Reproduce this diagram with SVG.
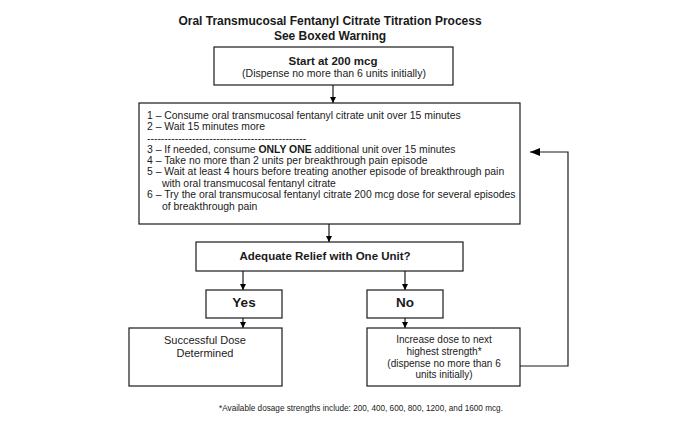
<svg xmlns="http://www.w3.org/2000/svg" width="674" height="423" viewBox="0 0 674 423">
<style>
  .box { fill: #ffffff; stroke: #1a1a1a; stroke-width: 1.2; }
  .t { font-family: "Liberation Sans", Arial, sans-serif; fill: #1a1a1a; }
  .b { font-weight: bold; }
  .c { text-anchor: middle; }
  .edge { fill: none; stroke: #1a1a1a; stroke-width: 1.2; }
</style>
<defs>
  <marker id="ah" markerUnits="userSpaceOnUse" markerWidth="8" markerHeight="8" refX="6" refY="3" orient="auto">
    <path d="M0,0 L6,3 L0,6 Z" fill="#000"/>
  </marker>
  <marker id="ahBig" markerUnits="userSpaceOnUse" markerWidth="12" markerHeight="10" refX="10" refY="4" orient="auto">
    <path d="M0,0 L10,4 L0,8 Z" fill="#000"/>
  </marker>
</defs>
<rect width="674" height="423" fill="#ffffff"/>

<g id="title">
  <text class="t b c" x="330" y="25" font-size="12">Oral Transmucosal Fentanyl Citrate Titration Process</text>
  <text class="t b c" x="330" y="40" font-size="12">See Boxed Warning</text>
</g>

<g id="connectors">
  <line class="edge" x1="333" y1="85" x2="333" y2="103" marker-end="url(#ah)"/>
  <line class="edge" x1="329" y1="224" x2="329" y2="242" marker-end="url(#ah)"/>
  <line class="edge" x1="243" y1="271" x2="243" y2="290" marker-end="url(#ah)"/>
  <line class="edge" x1="405" y1="271" x2="405" y2="290" marker-end="url(#ah)"/>
  <line class="edge" x1="243" y1="318" x2="243" y2="328" marker-end="url(#ah)"/>
  <line class="edge" x1="405" y1="318" x2="405" y2="328" marker-end="url(#ah)"/>
  <polyline class="edge" points="520,366 568,366 568,152 530,152" marker-end="url(#ahBig)"/>
</g>

<g id="start">
  <rect class="box" x="214" y="47" width="239" height="38"/>
  <text class="t b c" x="333" y="65" font-size="11.5">Start at 200 mcg</text>
  <text class="t c" x="334" y="77" font-size="10.5">(Dispense no more than 6 units initially)</text>
</g>

<g id="steps">
  <rect class="box" x="139" y="103" width="381" height="121"/>
  <text class="t" x="147" y="119" font-size="10.4">1 – Consume oral transmucosal fentanyl citrate unit over 15 minutes</text>
  <text class="t" x="147" y="130" font-size="10.4">2 – Wait 15 minutes more</text>
  <text class="t" x="147" y="141.5" font-size="10.4">----------------------------------------------</text>
  <text class="t" x="147" y="153" font-size="10.4">3 – If needed, consume <tspan class="b">ONLY ONE</tspan> additional unit over 15 minutes</text>
  <text class="t" x="147" y="164" font-size="10.4">4 – Take no more than 2 units per breakthrough pain episode</text>
  <text class="t" x="147" y="175" font-size="10.4">5 – Wait at least 4 hours before treating another episode of breakthrough pain</text>
  <text class="t" x="162" y="186.5" font-size="10.4">with oral transmucosal fentanyl citrate</text>
  <text class="t" x="147" y="198" font-size="10.4">6 – Try the oral transmucosal fentanyl citrate 200 mcg dose for several episodes</text>
  <text class="t" x="162" y="209.5" font-size="10.4">of breakthrough pain</text>
</g>

<g id="decision">
  <rect class="box" x="196" y="242" width="267" height="29"/>
  <text class="t b c" x="325" y="260" font-size="11.5">Adequate Relief with One Unit?</text>
</g>

<g id="yes">
  <rect class="box" x="206" y="290" width="76" height="28"/>
  <text class="t b c" x="244" y="307" font-size="13.5">Yes</text>
</g>

<g id="no">
  <rect class="box" x="367" y="290" width="76" height="28"/>
  <text class="t b c" x="405" y="307" font-size="13.5">No</text>
</g>

<g id="success">
  <rect class="box" x="129" y="328" width="153" height="58"/>
  <text class="t c" x="205" y="344" font-size="11">Successful Dose</text>
  <text class="t c" x="205" y="357" font-size="11">Determined</text>
</g>

<g id="increase">
  <rect class="box" x="367" y="328" width="153" height="58"/>
  <text class="t c" x="444" y="343" font-size="10">Increase dose to next</text>
  <text class="t c" x="444" y="354.5" font-size="10">highest strength*</text>
  <text class="t c" x="444" y="366.5" font-size="10">(dispense no more than 6</text>
  <text class="t c" x="444" y="378" font-size="10">units initially)</text>
</g>

<g id="footnote">
  <text class="t c" x="361" y="411" font-size="8.2">*Available dosage strengths include: 200, 400, 600, 800, 1200, and 1600 mcg.</text>
</g>
</svg>
